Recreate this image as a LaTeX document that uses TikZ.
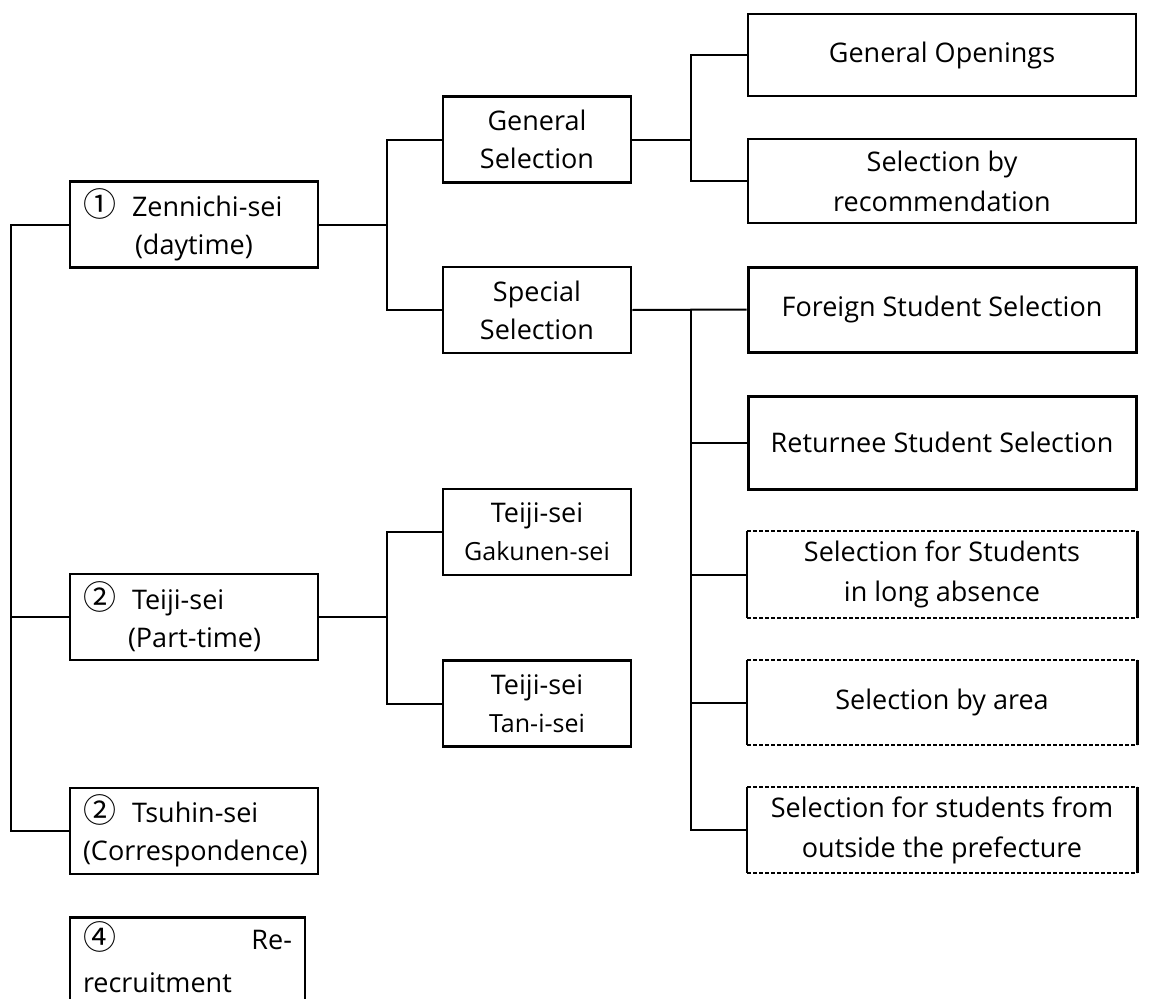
\documentclass[tikz,border=0pt]{standalone}
\usepackage{fontspec}
\setmainfont{Open Sans}
\newfontfamily\cjk{Noto Sans CJK JP}
\usetikzlibrary{positioning, calc}

\newcommand{\cnum}[1]{{\cjk\fontsize{33}{38}\selectfont #1}}

\begin{document}
\begin{tikzpicture}[
        x=1pt, y=-1pt,
        box/.style={draw, line width=2.6pt, minimum height=86pt, inner sep=0pt, font=\fontsize{27}{38}\selectfont},
        lbox/.style={box, minimum width=248pt, text width=222pt, align=left},
        mbox/.style={box, minimum width=188pt, align=center},
        rbox/.style={draw, line width=2pt, minimum width=388pt, minimum height=84pt, inner sep=0pt, align=center, font=\fontsize{27}{40}\selectfont},
        dbox/.style={rbox, draw=none},
        link/.style={line width=2pt},
        dashline/.style={line width=2pt, dash pattern=on 4pt off 2pt},
        sideline/.style={line width=2pt},
        sidethick/.style={line width=3pt}
    ]
        \clip (0,0) rectangle (1166,998);

        % Course types
        \node[lbox] (zen) at (194,224.5) {\cnum{①}\hspace{16pt}Zennichi-sei\\\hspace*{52pt}(daytime)};
        \node[lbox] (tei) at (194,617) {\cnum{②}\hspace{16pt}Teiji-sei\\\hspace*{45pt}(Part-time)};
        \node[lbox] (tsu) at (194,831) {\cnum{②}\hspace{16pt}Tsuhin-sei\\(Correspondence)};
        \node[box, minimum width=235pt, minimum height=110pt, text width=209pt, align=left, anchor=north, font=\fontsize{27}{43}\selectfont] (rer) at (187.5,916) {\cnum{④}\hfill Re-\\recruitment\rule[-30pt]{0pt}{0pt}};

        % Selections
        \node[mbox] (gen) at (537,139.5) {General\\Selection};
        \node[mbox] (spe) at (537,310) {Special\\Selection};
        \node[mbox] (gak) at (537,532) {Teiji-sei\\{\fontsize{25}{38}\selectfont Gakunen-sei}};
        \node[mbox] (tan) at (537,703.5) {Teiji-sei\\{\fontsize{25}{38}\selectfont Tan-i-sei}};

        % General selection
        \node[rbox, minimum height=82pt] (ope) at (942,55) {General Openings};
        \node[rbox] (rcm) at (942,181) {Selection by\\recommendation};

        % Special selection
        \node[rbox, line width=3pt, minimum height=85pt] (for) at (942,309.5) {Foreign Student Selection};
        \node[rbox, line width=3pt, minimum height=93pt] (ret) at (942,442.5) {Returnee Student Selection};
        \node[dbox, minimum height=85pt] (lon) at (942,574.5) {Selection for Students\\in long absence};
        \node[dbox, minimum height=83pt] (are) at (942,702.5) {Selection by area};
        \node[dbox] (out) at (942,830) {Selection for students from\\outside the prefecture};

        \foreach \n in {lon,are,out}{
            \draw[dashline] (\n.north west) -- (\n.north east);
            \draw[dashline] (\n.south west) -- (\n.south east);
            \draw[sideline] (\n.north west) -- (\n.south west);
            \draw[sidethick] (\n.north east) -- (\n.south east);
        }

        % Left trunk
        \draw[link] (zen.west) -- ++(-58,0) coordinate (lj) |- (tsu.west);
        \draw[link] (tei.west) -- (tei.west -| lj);

        % Zennichi-sei branches
        \draw[link] (zen.east) -- ++(68,0) coordinate (zj);
        \draw[link] (gen.west) -| (zj) |- (spe.west);

        % Teiji-sei branches
        \draw[link] (tei.east) -- ++(68,0) coordinate (tj);
        \draw[link] (gak.west) -| (tj) |- (tan.west);

        % General selection branches
        \draw[link] (gen.east) -- ++(59,0) coordinate (gj);
        \draw[link] (ope.west) -| (gj) |- (rcm.west);

        % Special selection branches
        \draw[link] (spe.east) -- (for.west);
        \path (spe.east) ++(59,0) coordinate (rj);
        \draw[link] (rj) |- (out.west);
        \foreach \n in {ret,lon,are}
            \draw[link] (\n.west -| rj) -- (\n.west);
    \end{tikzpicture}
\end{document}
